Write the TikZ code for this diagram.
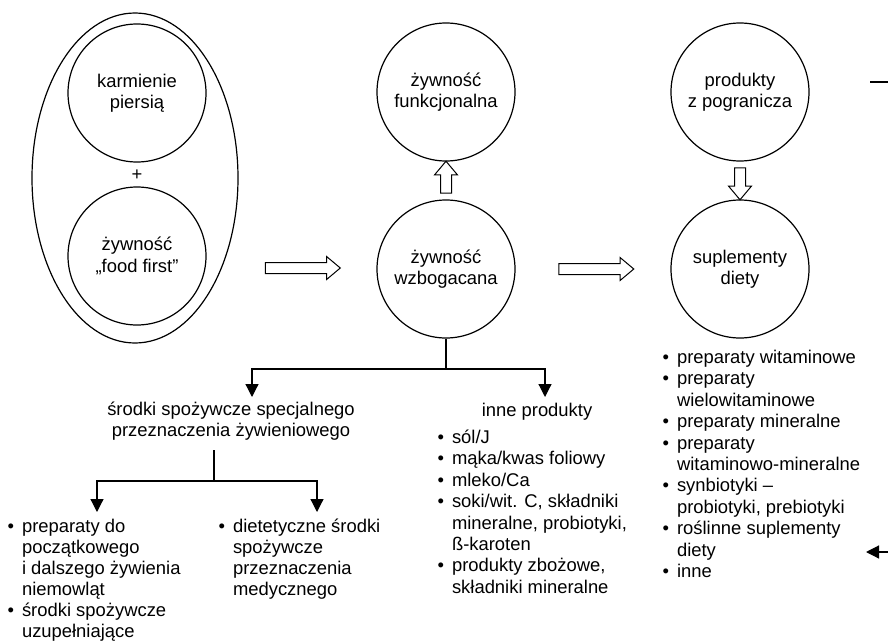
\documentclass[tikz,border=0pt]{standalone}
\usepackage{fontspec}
\setmainfont{Liberation Sans}
\usetikzlibrary{shapes.geometric, shapes.arrows, arrows.meta, calc}

\begin{document}
\begin{tikzpicture}[x=1pt, y=-1pt, line width=1.2pt,
    every node/.style={font=\fontsize{18.4}{21.4}\selectfont, inner sep=0pt},
    krag/.style={circle, draw, minimum size=138pt, align=center},
    pusta/.style={single arrow, draw, line width=1pt, inner sep=5pt, single arrow head extend=6pt, single arrow tip angle=80},
    gal/.style={-{Triangle[width=13pt, length=13pt]}},
    lista/.style={anchor=north west, align=left}]
\useasboundingbox (0,0) rectangle (888,642);
% lewa strona: owal z dwoma kolami
\node[ellipse, draw, minimum width=206pt, minimum height=330pt] (owal) at (135,178) {};
\node[krag] (kp) at (137,93) {karmienie\\piersią};
\node (plus) at (137,175) {+};
\node[krag] (ff) at (137,256) {żywność\\„food first”};
% srodek i prawa strona
\node[krag] (funk) at (446,92) {żywność\\funkcjonalna};
\node[krag] (wzb) at (446,269) {żywność\\wzbogacana};
\node[krag] (prod) at (740,92) {produkty\\z pogranicza};
\node[krag] (sup) at (740,269) {suplementy\\diety};
\node[pusta, minimum height=75pt] (s1) at (299.5,268) {};
\node[pusta, minimum height=75pt] (s2) at ($(wzb.east)!0.5!(sup.west)$) {};
\node[pusta, minimum height=32pt, rotate=90] (s3) at ($(wzb.north)!0.5!(funk.south)$) {};
\node[pusta, minimum height=32pt, rotate=-90] (s4) at ($(prod.south)!0.5!(sup.north)$) {};
% rozgalezienie pod zywnoscia wzbogacana
\node[anchor=north, align=center] (spec) at (231,401) {środki spożywcze specjalnego\\przeznaczenia żywieniowego};
\node[anchor=base] (inne) at (537,416.7) {inne produkty};
\coordinate (w1) at (446,369);
\coordinate (t1) at (252,397);
\coordinate (t2) at (545,397);
\draw (wzb.south) -- (w1);
\draw[gal] (w1) -| (t1);
\draw[gal] (w1) -| (t2);
\coordinate (z1) at (214,450);
\coordinate (w2) at (214,481);
\coordinate (t3) at (97,512);
\coordinate (t4) at (317,512);
\draw (z1) -- (w2);
\draw[gal] (w2) -| (t3);
\draw[gal] (w2) -| (t4);
% listy
\node[lista, font=\fontsize{18.4}{21}\selectfont] (listaA) at (7,517.5) {\begin{tabular}{@{}l@{\hspace{8pt}}l@{}}
\textbullet & preparaty do\\ & początkowego\\ & i dalszego żywienia\\ & niemowląt\\
\textbullet & środki spożywcze\\ & uzupełniające\end{tabular}};
\node[lista, font=\fontsize{18.4}{21}\selectfont] (listaB) at (218,517.5) {\begin{tabular}{@{}l@{\hspace{8pt}}l@{}}
\textbullet & dietetyczne środki\\ & spożywcze\\ & przeznaczenia\\ & medycznego\end{tabular}};
\node[lista] (listaC) at (437,428) {\begin{tabular}{@{}l@{\hspace{8pt}}l@{}}
\textbullet & sól/J\\ \textbullet & mąka/kwas foliowy\\ \textbullet & mleko/Ca\\
\textbullet & soki/wit. C, składniki\\ & mineralne, probiotyki,\\ & ß-karoten\\
\textbullet & produkty zbożowe,\\ & składniki mineralne\end{tabular}};
\node[lista] (listaD) at (662,348) {\begin{tabular}{@{}l@{\hspace{8pt}}l@{}}
\textbullet & preparaty witaminowe\\ \textbullet & preparaty\\ & wielowitaminowe\\
\textbullet & preparaty mineralne\\ \textbullet & preparaty\\ & witaminowo-mineralne\\
\textbullet & synbiotyki --\\ & probiotyki, prebiotyki\\
\textbullet & roślinne suplementy\\ & diety\\ \textbullet & inne\end{tabular}};
% urwane linie przy prawej krawedzi
\coordinate (r1) at (870,82);
\coordinate (r2) at (892,82);
\coordinate (r3) at (892,552);
\coordinate (r4) at (866,552);
\draw (r1) -- (r2);
\draw[gal] (r3) -- (r4);
\end{tikzpicture}
\end{document}
